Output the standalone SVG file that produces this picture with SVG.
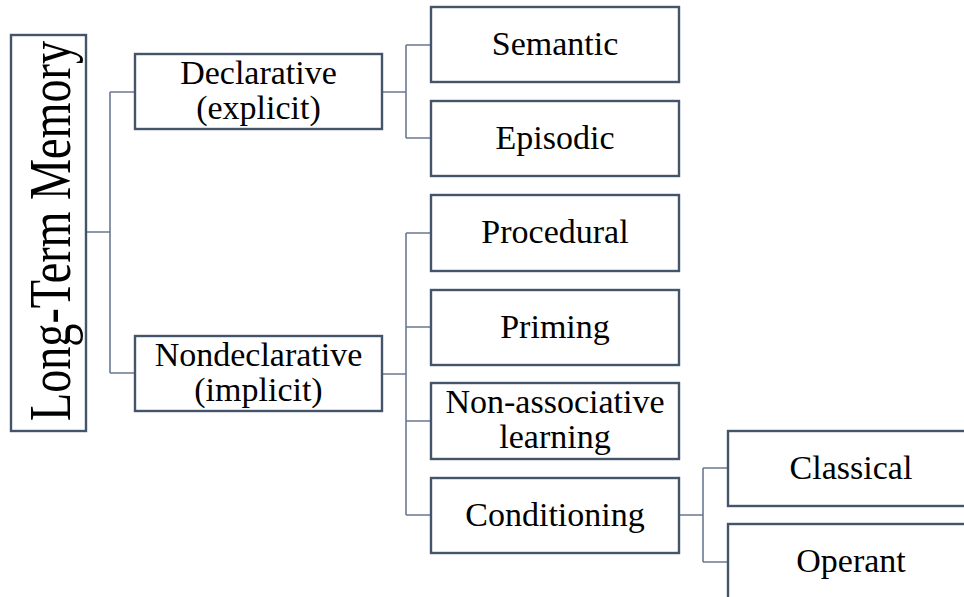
<svg xmlns="http://www.w3.org/2000/svg" width="964" height="597" viewBox="0 0 964 597">
<style>
.box{fill:#fff;stroke:#44546A;stroke-width:2.4}
.t{font-family:"Liberation Serif","Times New Roman",serif;font-size:34px;fill:#000;text-anchor:middle}
.c{fill:none;stroke:#6A7A90;stroke-width:1.6}
</style>
<rect width="964" height="597" fill="#fff"/>
<g id="connectors">
<path class="c" d="M86,232 H110 M110,92 V373 M110,92 H135 M110,373 H135"/>
<path class="c" d="M382,92 H406 M406,45 V138 M406,45 H431 M406,138 H431"/>
<path class="c" d="M382,374 H406 M406,233 V515 M406,233 H431 M406,327 H431 M406,421 H431 M406,515 H431"/>
<path class="c" d="M679,515 H703 M703,468 V562 M703,468 H728 M703,562 H728"/>
</g>
<g id="ltm">
<rect class="box" x="11" y="35" width="75" height="396"/>
<text class="t" transform="translate(70,231) rotate(-90)" x="0" y="0" style="font-size:60px" textLength="380" lengthAdjust="spacingAndGlyphs">Long-Term Memory</text>
</g>
<g id="declarative">
<rect class="box" x="135" y="54" width="247" height="75"/>
<text class="t" x="258.5" y="84">Declarative</text>
<text class="t" x="258.5" y="119">(explicit)</text>
</g>
<g id="nondeclarative">
<rect class="box" x="135" y="336" width="247" height="75"/>
<text class="t" x="258.5" y="366">Nondeclarative</text>
<text class="t" x="258.5" y="401">(implicit)</text>
</g>
<g id="semantic">
<rect class="box" x="431" y="7" width="248" height="75"/>
<text class="t" x="555" y="55">Semantic</text>
</g>
<g id="episodic">
<rect class="box" x="431" y="101" width="248" height="75"/>
<text class="t" x="555" y="149">Episodic</text>
</g>
<g id="procedural">
<rect class="box" x="431" y="195" width="248" height="76"/>
<text class="t" x="555" y="243">Procedural</text>
</g>
<g id="priming">
<rect class="box" x="431" y="290" width="248" height="75"/>
<text class="t" x="555" y="338">Priming</text>
</g>
<g id="nonassociative">
<rect class="box" x="431" y="383" width="248" height="76"/>
<text class="t" x="555" y="413">Non-associative</text>
<text class="t" x="555" y="448">learning</text>
</g>
<g id="conditioning">
<rect class="box" x="431" y="478" width="248" height="75"/>
<text class="t" x="555" y="526">Conditioning</text>
</g>
<g id="classical">
<rect class="box" x="728" y="431" width="248" height="75"/>
<text class="t" x="851" y="479">Classical</text>
</g>
<g id="operant">
<rect class="box" x="728" y="524" width="248" height="75"/>
<text class="t" x="851" y="572">Operant</text>
</g>
</svg>
